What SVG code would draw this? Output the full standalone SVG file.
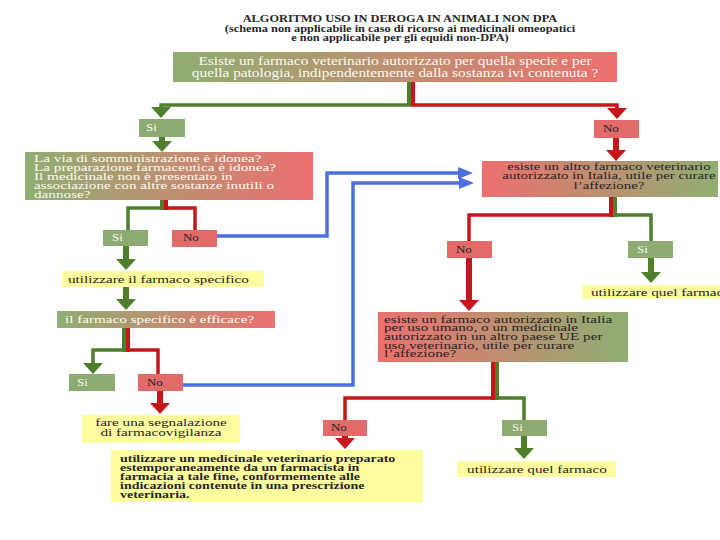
<svg xmlns="http://www.w3.org/2000/svg" width="720" height="540" viewBox="0 0 720 540">
<style>
.t{font-family:"Liberation Serif","Times New Roman",serif}
.w{fill:#fbfaf0}
.d{fill:#262626}
.b{font-weight:bold}
.gl{stroke:#4f7f2c;stroke-width:3.5;fill:none}
.rl{stroke:#c4161c;stroke-width:3.5;fill:none}
.ga{stroke:#4f7f2c;stroke-width:6;fill:none}
.ra{stroke:#c4161c;stroke-width:6;fill:none}
.bl{stroke:#4c6fde;stroke-width:3.5;fill:none}
.si{fill:#8dab71}
.no{fill:#e26a69}
.ye{fill:#fdfc9e}
</style>
<defs>
<linearGradient id="gGR" x1="0" y1="0" x2="1" y2="0"><stop offset="0" stop-color="#8fae72"/><stop offset="1" stop-color="#ec706f"/></linearGradient>
<linearGradient id="gRG" x1="0" y1="0" x2="1" y2="0"><stop offset="0" stop-color="#ec706f"/><stop offset="1" stop-color="#8fae72"/></linearGradient>
<marker id="mg" markerUnits="userSpaceOnUse" markerWidth="11" markerHeight="20" viewBox="0 0 11 20" refX="0" refY="10" orient="auto"><path d="M0,0 L11,10 L0,20z" fill="#4f7f2c"/></marker>
<marker id="mr" markerUnits="userSpaceOnUse" markerWidth="11" markerHeight="20" viewBox="0 0 11 20" refX="0" refY="10" orient="auto"><path d="M0,0 L11,10 L0,20z" fill="#c4161c"/></marker>
<marker id="mb" markerUnits="userSpaceOnUse" markerWidth="15" markerHeight="12" viewBox="0 0 15 12" refX="0" refY="6" orient="auto"><path d="M0,0 L15,6 L0,12z" fill="#4c6fde"/></marker>
</defs>
<rect width="720" height="540" fill="#ffffff"/>

<g id="title" class="t b d" font-size="9.5" text-anchor="middle">
<text transform="translate(400,21.5) scale(1.3,1)">ALGORITMO USO IN DEROGA IN ANIMALI NON DPA</text>
<text transform="translate(400,31.5) scale(1.3,1)">(schema non applicabile in caso di ricorso ai medicinali omeopatici</text>
<text transform="translate(400,41) scale(1.3,1)">e non applicabile per gli equidi non-DPA)</text>
</g>

<g id="connectors">
<rect x="407" y="82" width="4" height="24" fill="#4f7f2c"/>
<rect x="411" y="82" width="4" height="24" fill="#c4161c"/>
<path class="gl" d="M411,105 H161 V107" marker-end="url(#mg)"/>
<path class="rl" d="M411,105 H617 V108" marker-end="url(#mr)"/>
<path class="ga" d="M162,137 V141" marker-end="url(#mg)"/>
<path class="ra" d="M616,138 V150" marker-end="url(#mr)"/>
<rect x="160" y="200" width="4" height="10" fill="#4f7f2c"/>
<rect x="164" y="200" width="4" height="10" fill="#c4161c"/>
<path class="gl" d="M164,208 H128 V230"/>
<path class="rl" d="M164,208 H195 V230"/>
<path class="bl" d="M217,236 H327 V173 H458" marker-end="url(#mb)"/>
<path class="ga" d="M126,246 V259" marker-end="url(#mg)"/>
<path class="ga" d="M126,287 V299" marker-end="url(#mg)"/>
<rect x="122" y="328" width="4" height="24" fill="#4f7f2c"/>
<rect x="126" y="328" width="4" height="24" fill="#c4161c"/>
<path class="gl" d="M126,350 H93 V363" marker-end="url(#mg)"/>
<path class="rl" d="M126,350 H158 V374"/>
<path class="bl" d="M183,385 H353 V183 H459" marker-end="url(#mb)"/>
<path class="ra" d="M160,391 V403" marker-end="url(#mr)"/>
<rect x="609" y="197" width="4" height="20" fill="#c4161c"/>
<rect x="613" y="197" width="4" height="20" fill="#4f7f2c"/>
<path class="rl" d="M613,215 H469 V241"/>
<path class="gl" d="M613,215 H651 V241"/>
<path class="ga" d="M651,258 V272" marker-end="url(#mg)"/>
<path class="ra" d="M469,258 V300" marker-end="url(#mr)"/>
<rect x="491" y="362" width="4" height="38" fill="#c4161c"/>
<rect x="495" y="362" width="4" height="38" fill="#4f7f2c"/>
<path class="rl" d="M495,398 H345 V420"/>
<path class="gl" d="M495,398 H524 V420"/>
<path class="ra" d="M345,436 V438" marker-end="url(#mr)"/>
<path class="ga" d="M524,436 V448" marker-end="url(#mg)"/>
</g>

<g id="q1">
<rect x="173" y="52" width="444" height="30" fill="url(#gGR)"/>
<text class="t w" font-size="12" text-anchor="middle" transform="translate(395,65) scale(1.28,1)"><tspan x="0">Esiste un farmaco veterinario autorizzato per quella specie e per</tspan><tspan x="0" dy="12">quella patologia, indipendentemente dalla sostanza ivi contenuta ?</tspan></text>
</g>
<g id="si1"><rect class="si" x="139" y="119" width="46" height="18"/><text class="t w" font-size="10" transform="translate(146,131) scale(1.3,1)">Si</text></g>
<g id="no1"><rect class="no" x="594" y="120" width="45" height="18"/><text class="t d" font-size="10" transform="translate(603,132) scale(1.3,1)">No</text></g>

<g id="q2">
<rect x="25" y="152" width="288" height="48" fill="url(#gGR)"/>
<text class="t w" font-size="10" transform="translate(34,162) scale(1.52,1)"><tspan x="0">La via di somministrazione è idonea?</tspan><tspan x="0" dy="9">La preparazione farmaceutica è idonea?</tspan><tspan x="0" dy="9">Il medicinale non è presentato in</tspan><tspan x="0" dy="9">associazione con altre sostanze inutili o</tspan><tspan x="0" dy="9">dannose?</tspan></text>
</g>
<g id="si2"><rect class="si" x="103" y="230" width="45" height="16"/><text class="t w" font-size="10" transform="translate(112,241) scale(1.3,1)">Si</text></g>
<g id="no2"><rect class="no" x="172" y="230" width="45" height="17"/><text class="t d" font-size="10" transform="translate(183,241) scale(1.3,1)">No</text></g>
<g id="use1"><rect class="ye" x="62" y="271" width="202" height="16"/><text class="t d" font-size="11" transform="translate(68,283) scale(1.38,1)">utilizzare il farmaco specifico</text></g>
<g id="q5"><rect x="57" y="311" width="218" height="17" fill="url(#gGR)"/><text class="t w" font-size="11" transform="translate(65,323) scale(1.38,1)">il farmaco specifico è efficace?</text></g>
<g id="si3"><rect class="si" x="69" y="374" width="46" height="17"/><text class="t w" font-size="10" transform="translate(77,386) scale(1.3,1)">Si</text></g>
<g id="no3"><rect class="no" x="138" y="374" width="45" height="17"/><text class="t d" font-size="10" transform="translate(147,386) scale(1.3,1)">No</text></g>
<g id="report"><rect class="ye" x="82" y="415" width="158" height="28"/><text class="t d" font-size="10.5" text-anchor="middle" transform="translate(161,426) scale(1.45,1)"><tspan x="0">fare una segnalazione</tspan><tspan x="0" dy="10">di farmacovigilanza</tspan></text></g>

<g id="q3">
<rect x="482" y="161" width="236" height="36" fill="url(#gRG)"/>
<text class="t d" font-size="10.5" text-anchor="middle" transform="translate(609,170) scale(1.42,1)"><tspan x="0">esiste un altro farmaco veterinario</tspan><tspan x="0" dy="9.5">autorizzato in Italia, utile per curare</tspan><tspan x="0" dy="9.5">l’affezione?</tspan></text>
</g>
<g id="no4"><rect class="no" x="447" y="241" width="45" height="17"/><text class="t d" font-size="10" transform="translate(456,253) scale(1.3,1)">No</text></g>
<g id="si4"><rect class="si" x="628" y="241" width="45" height="17"/><text class="t w" font-size="10" transform="translate(637,253) scale(1.3,1)">Si</text></g>
<g id="use2"><rect class="ye" x="582" y="285" width="140" height="14"/><text class="t d" font-size="11" transform="translate(591,295.5) scale(1.38,1)">utilizzare quel farmaco</text></g>

<g id="q4">
<rect x="378" y="312" width="250" height="50" fill="url(#gRG)"/>
<text class="t d" font-size="10" transform="translate(384,322.5) scale(1.52,1)"><tspan x="0">esiste un farmaco autorizzato in Italia</tspan><tspan x="0" dy="8.7">per uso umano, o un medicinale</tspan><tspan x="0" dy="8.7">autorizzato in un altro paese UE per</tspan><tspan x="0" dy="8.7">uso veterinario, utile per curare</tspan><tspan x="0" dy="8.7">l’affezione?</tspan></text>
</g>
<g id="no5"><rect class="no" x="323" y="420" width="44" height="16"/><text class="t d" font-size="10" transform="translate(331,431) scale(1.3,1)">No</text></g>
<g id="si5"><rect class="si" x="502" y="420" width="45" height="16"/><text class="t w" font-size="10" transform="translate(512,431) scale(1.3,1)">Si</text></g>
<g id="galenic"><rect class="ye" x="111" y="450" width="312" height="52"/><text class="t d b" font-size="10" transform="translate(120,462) scale(1.4,1)"><tspan x="0">utilizzare un medicinale veterinario preparato</tspan><tspan x="0" dy="8.9">estemporaneamente da un farmacista in</tspan><tspan x="0" dy="8.9">farmacia a tale fine, conformemente alle</tspan><tspan x="0" dy="8.9">indicazioni contenute in una prescrizione</tspan><tspan x="0" dy="8.9">veterinaria.</tspan></text></g>
<g id="use3"><rect class="ye" x="457" y="461" width="159" height="16"/><text class="t d" font-size="11" text-anchor="middle" transform="translate(537,473) scale(1.38,1)">utilizzare quel farmaco</text></g>
</svg>
